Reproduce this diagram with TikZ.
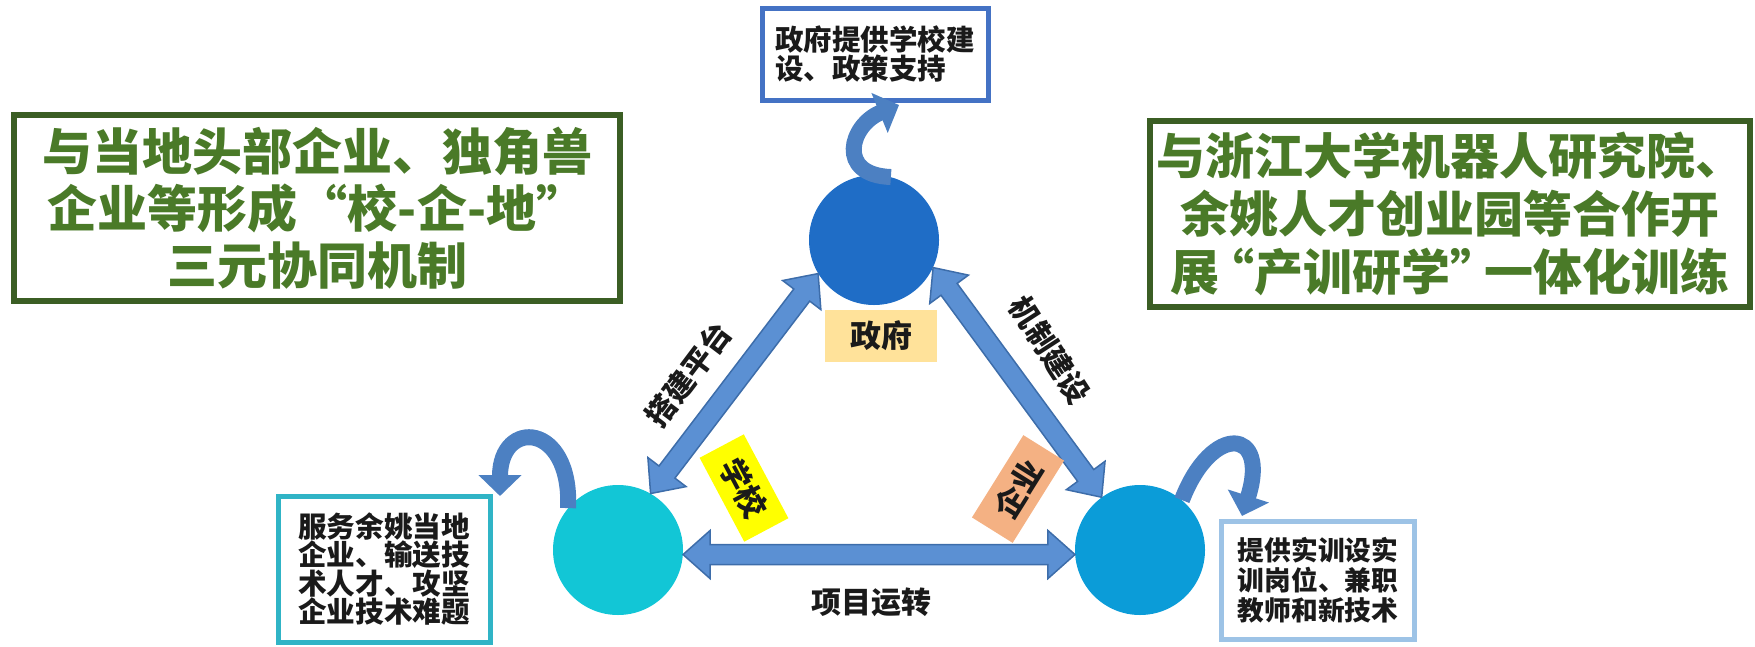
\documentclass[tikz,border=0pt]{standalone}
\usepackage{fontspec}
\setmainfont{Noto Sans CJK SC}
\usetikzlibrary{arrows.meta,calc}
\definecolor{gframe}{HTML}{3B5E24}
\definecolor{gtext}{HTML}{4A7A28}
\definecolor{govc}{HTML}{1F6DC6}
\definecolor{schc}{HTML}{12C6D6}
\definecolor{entc}{HTML}{0B9CD8}
\definecolor{arrf}{HTML}{5B90D3}
\definecolor{arrd}{HTML}{3D6DAA}
\definecolor{loopc}{HTML}{4C80C2}
\definecolor{govbox}{HTML}{4472C4}
\definecolor{schbox}{HTML}{30B4C6}
\definecolor{entbox}{HTML}{9DC3E6}
\definecolor{govlab}{HTML}{FFE29A}
\definecolor{schlab}{HTML}{FFFF00}
\definecolor{entlab}{HTML}{F4B183}
\definecolor{ink}{HTML}{1A1A1A}
\def\ah{27}\def\aw{24}\def\sw{10}
\newcommand\barrow[2]{%
  \path[blockarr] let \p1=(#1), \p2=(#2),
    \n1={atan2(\y2-\y1,\x2-\x1)}, \n2={veclen(\x2-\x1,\y2-\y1)} in
    [shift={(\p1)}, rotate=\n1]
    (0,0) -- (\ah,\aw) -- (\ah,\sw) -- ({\n2-\ah},\sw) -- ({\n2-\ah},\aw)
    -- (\n2,0) -- ({\n2-\ah},-\aw) -- ({\n2-\ah},-\sw) -- (\ah,-\sw)
    -- (\ah,-\aw) -- cycle;}
\begin{document}
\begin{tikzpicture}[x=1pt,y=-1pt,
  gbox/.style={draw=gframe, line width=6pt, fill=white, text=gtext,
    align=center, inner sep=2pt, font=\bfseries},
  infobox/.style={draw=#1, line width=5pt, fill=white, text=ink,
    align=left, inner sep=2pt, font=\bfseries},
  actor/.style={circle, fill=#1, minimum size=130pt, inner sep=0pt},
  lab/.style={fill=#1, text=ink, inner sep=0pt,
    font=\bfseries\fontsize{31}{31}\selectfont},
  edgelab/.style={text=ink, inner sep=0pt,
    font=\bfseries\fontsize{30}{30}\selectfont},
  blockarr/.style={fill=arrf, draw=arrd, line width=1.5pt, line join=miter},
  loopar/.style={draw=loopc, line width=16pt,
    -{Triangle[length=21pt,width=42pt]}}]
\useasboundingbox (0,0) rectangle (1755,646);

% side boxes
\node[gbox, minimum width=606pt, minimum height=186pt,
  font=\bfseries\fontsize{50}{57}\selectfont] (lbox) at (317,208)
  {与当地头部企业、独角兽\\企业等形成“校-企-地”\\三元协同机制};
\node[gbox, minimum width=600pt, minimum height=186pt,
  font=\bfseries\fontsize{49}{58}\selectfont] (rbox) at (1450,214)
  {与浙江大学机器人研究院、\\余姚人才创业园等合作开\\展\kern-.3em“产训研学”\kern-.3em一体化训练};

% actors
\node[actor=govc] (gov) at (874,240) {};
\node[actor=schc] (sch) at (618,550) {};
\node[actor=entc] (ent) at (1140,550) {};

% info boxes
\node[infobox=govbox, minimum width=226pt, minimum height=92pt,
  font=\bfseries\fontsize{28.5}{28.5}\selectfont] (govinfo) at (875,54)
  {政府提供学校建\\设、政策支持};
\node[infobox=schbox, minimum width=212pt, minimum height=146pt,
  font=\bfseries\fontsize{28.6}{28.6}\selectfont] (schinfo) at (384,569)
  {服务余姚当地\\企业、输送技\\术人才、攻坚\\企业技术难题};
\node[infobox=entbox, minimum width=193pt, minimum height=118pt,
  font=\bfseries\fontsize{26.7}{30}\selectfont] (entinfo) at (1318,580)
  {提供实训设实\\训岗位、兼职\\教师和新技术};

% block double arrows
\barrow{gov.211}{sch.60}
\barrow{gov.-25}{ent.126}
\barrow{sch.-4}{ent.184}

% self loops
\coordinate (govtip) at (899,105);
\coordinate (schtip) at (500,496);
\coordinate (enttip) at (1242,516);
\draw[loopar] (gov.75) .. controls (836,175) and (850,125) .. (govtip);
\draw[loopar] (sch.140) .. controls (572,422) and (500,418) .. (schtip);
\draw[loopar] (ent.50) .. controls (1212,422) and (1270,428) .. (enttip);

% labels
\node[lab=govlab, minimum width=112pt, minimum height=52pt] (lgov) at (881,336) {政府};
\node[lab=schlab, minimum width=95pt, minimum height=50pt, rotate=-62] (lsch) at (744,488) {学校};
\node[lab=entlab, minimum width=97pt, minimum height=48pt, rotate=58] (lent) at (1018,489) {企业};
\node[edgelab, rotate=53] (e1) at (688,374) {搭建平台};
\node[edgelab, rotate=-57] (e2) at (1050,350) {机制建设};
\node[edgelab] (e3) at (871,602) {项目运转};
\end{tikzpicture}
\end{document}
